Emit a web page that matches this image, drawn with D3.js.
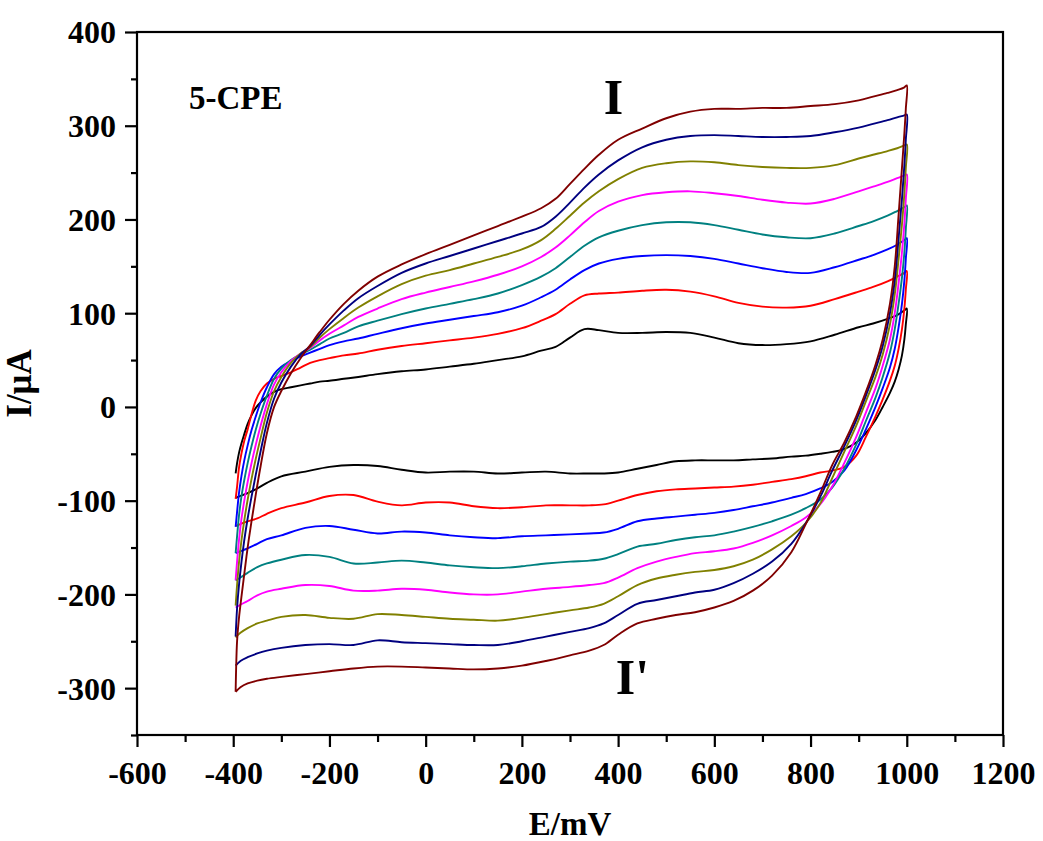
<!DOCTYPE html>
<html>
<head>
<meta charset="utf-8">
<script src="https://cdn.jsdelivr.net/npm/d3@7"></script>
<style>
  html, body { margin: 0; padding: 0; background: #ffffff; }
  svg text { font-family: "Liberation Serif", "Times New Roman", serif; font-weight: bold; fill: #000; }
</style>
</head>
<body>
<svg id="chart" width="1043" height="841"></svg>
<script>
// ---------------- data ----------------
const scanNames = ["scan1", "scan2", "scan3", "scan4", "scan5", "scan6", "scan7", "scan8"];
const scanColors = ["#000000", "#ff0000", "#0000ff", "#008080", "#ff00ff", "#808000", "#000080", "#800000"];

// anodic (forward) sweep potentials, mV
const anodicE = [-395, -392, -388, -383, -377, -370, -362, -353, -343, -330, -315, -300, -280, -260, -240, -220, -200, -170, -140, -100, -50, 0, 50, 100, 150, 200, 240, 270, 300, 330, 360, 400, 450, 500, 550, 600, 650, 700, 750, 800, 850, 900, 930, 960, 980, 995, 1000];
// anodic currents, µA (one row per scan)
const anodicI = [
  [-71, -60, -49, -39, -29, -18, -9, -1, 5, 11, 16, 19, 21, 23, 25, 27, 28, 30, 32, 35, 38, 40, 43, 46, 50, 54, 60, 64, 74, 83, 82, 79, 79, 80, 79, 74, 68, 66, 67, 70, 77, 85, 89, 94, 98, 103, 105],
  [-98, -85, -65, -50, -36, -24, -8, 7, 17, 25, 30, 33, 37, 42, 47, 50, 52, 55, 57, 61, 65, 68, 71, 74, 78, 84, 92, 99, 110, 119, 121, 122, 124, 125, 123, 118, 111, 107, 106, 108, 115, 123, 128, 134, 139, 143, 145],
  [-128, -112, -92, -74, -57, -41, -25, -10, 5, 21, 35, 43, 49, 54, 58, 62, 66, 70, 73, 78, 84, 89, 93, 97, 101, 108, 117, 125, 136, 146, 153, 158, 161, 162, 161, 158, 153, 148, 144, 143, 149, 157, 162, 168, 173, 178, 180],
  [-156, -138, -116, -96, -78, -60, -42, -24, -7, 12, 30, 41, 50, 56, 61, 67, 73, 79, 86, 92, 99, 105, 110, 115, 121, 130, 139, 148, 160, 172, 181, 188, 194, 197, 197, 194, 189, 184, 181, 180, 185, 193, 198, 204, 209, 213, 215],
  [-185, -165, -142, -120, -100, -80, -60, -40, -20, 3, 24, 37, 49, 57, 63, 71, 78, 87, 96, 105, 115, 122, 128, 134, 141, 150, 160, 170, 183, 197, 209, 219, 226, 229, 230, 228, 225, 221, 218, 217, 222, 230, 235, 240, 244, 247, 248],
  [-212, -190, -166, -143, -121, -99, -77, -55, -33, -6, 17, 32, 47, 57, 64, 74, 83, 95, 106, 118, 131, 140, 146, 153, 160, 168, 178, 190, 204, 218, 230, 243, 255, 260, 262, 261, 258, 256, 255, 255, 258, 265, 269, 273, 276, 279, 280],
  [-245, -215, -190, -166, -142, -119, -96, -72, -47, -17, 9, 26, 43, 56, 65, 77, 88, 103, 116, 129, 143, 153, 161, 169, 177, 185, 192, 203, 218, 234, 248, 263, 277, 285, 289, 290, 289, 288, 288, 289, 293, 298, 302, 306, 309, 311, 312],
  [-304, -250, -225, -203, -178, -150, -122, -93, -63, -28, 0, 17, 36, 52, 66, 80, 93, 110, 124, 139, 152, 163, 173, 183, 193, 203, 212, 222, 238, 254, 269, 285, 297, 308, 315, 318, 318, 319, 319, 321, 323, 327, 331, 335, 338, 341, 343]
];

// cathodic (reverse) sweep potentials, mV
const cathodicE = [1000, 998, 995, 990, 983, 975, 965, 950, 935, 915, 895, 870, 845, 820, 790, 760, 720, 680, 640, 600, 560, 520, 480, 440, 400, 370, 340, 300, 250, 200, 150, 100, 50, 0, -50, -100, -150, -200, -250, -300, -330, -350, -370, -385, -395];
// cathodic currents, µA (one row per scan)
const cathodicI = [
  [105, 88, 72, 55, 40, 27, 15, 0, -14, -28, -38, -45, -48, -50, -52, -53, -55, -56, -57, -57, -57, -58, -62, -66, -70, -71, -71, -71, -69, -70, -71, -69, -69, -70, -67, -63, -62, -64, -69, -74, -81, -87, -92, -95, -97],
  [145, 125, 105, 83, 62, 44, 28, 8, -10, -32, -52, -64, -68, -70, -74, -77, -80, -83, -85, -86, -87, -88, -90, -94, -100, -104, -105, -105, -105, -107, -108, -106, -102, -102, -105, -101, -94, -95, -102, -108, -114, -119, -122, -125, -127],
  [180, 158, 135, 110, 85, 62, 42, 20, 0, -24, -46, -68, -80, -87, -93, -97, -102, -106, -110, -113, -115, -117, -119, -122, -130, -134, -135, -136, -137, -138, -140, -139, -137, -134, -133, -135, -131, -127, -129, -137, -141, -146, -151, -154, -156],
  [215, 190, 165, 138, 110, 83, 58, 32, 10, -15, -40, -66, -86, -99, -108, -115, -122, -128, -133, -137, -139, -142, -146, -149, -157, -162, -164, -165, -167, -170, -172, -171, -169, -166, -164, -166, -167, -160, -158, -163, -167, -171, -177, -182, -185],
  [248, 222, 196, 165, 132, 100, 72, 44, 20, -6, -32, -60, -85, -104, -118, -127, -137, -145, -151, -154, -156, -160, -165, -172, -182, -188, -190, -192, -194, -197, -200, -200, -198, -195, -194, -196, -196, -191, -190, -194, -197, -201, -207, -211, -214],
  [280, 255, 228, 195, 158, 120, 88, 56, 32, 6, -20, -48, -76, -103, -124, -138, -152, -163, -170, -174, -176, -179, -183, -190, -202, -210, -214, -217, -221, -225, -228, -227, -226, -224, -222, -221, -226, -225, -222, -224, -228, -231, -236, -241, -246],
  [312, 285, 258, 222, 180, 135, 100, 65, 40, 12, -14, -42, -68, -96, -124, -146, -165, -178, -188, -195, -198, -202, -206, -210, -222, -231, -236, -240, -245, -250, -254, -254, -253, -252, -251, -249, -254, -253, -254, -257, -260, -263, -267, -271, -276],
  [343, 318, 292, 255, 205, 150, 110, 72, 45, 16, -10, -38, -62, -92, -125, -155, -180, -196, -207, -214, -219, -222, -226, -231, -243, -254, -260, -265, -271, -276, -279, -280, -279, -278, -277, -277, -279, -282, -285, -288, -290, -292, -295, -299, -304]
];

const xTicks = [-600, -400, -200, 0, 200, 400, 600, 800, 1000, 1200];
const xMinor = [-500, -300, -100, 100, 300, 500, 700, 900, 1100];
const yTicks = [-300, -200, -100, 0, 100, 200, 300, 400];
const yMinor = [-350, -250, -150, -50, 50, 150, 250, 350];
const xTitle = "E/mV";
const yTitle = "I/\u03bcA";
const panelLabel = "5-CPE";
const peakLabels = [{ text: "I", E: 370, I: 312 }, { text: "I'", E: 395, I: -306 }];

// ---------------- layout ----------------
const W = 1043, H = 841;
const margin = { left: 137, right: 40, top: 32, bottom: 106 };
const iw = W - margin.left - margin.right;
const ih = H - margin.top - margin.bottom;

const svg = d3.select("#chart");
const g = svg.append("g").attr("transform", `translate(${margin.left},${margin.top})`);

const x = d3.scaleLinear().domain([-600, 1200]).range([0, iw]);
const y = d3.scaleLinear().domain([-350, 400]).range([ih, 0]);

// curves
const line = d3.line()
  .x(d => x(d[0]))
  .y(d => y(d[1]))
  .curve(d3.curveCatmullRom.alpha(0.5));

const plot = g.append("g");
scanNames.forEach((name, k) => {
  const pts = anodicE.map((e, i) => [e, anodicI[k][i]])
    .concat(cathodicE.slice(1).map((e, i) => [e, cathodicI[k][i + 1]]));
  plot.append("path")
    .datum(pts)
    .attr("fill", "none")
    .attr("stroke", scanColors[k])
    .attr("stroke-width", 1.9)
    .attr("stroke-linejoin", "round")
    .attr("d", line);
});

// axes
const fontSize = 32;
const fmt = d => String(d);
const xAxis = g.append("g").attr("transform", `translate(0,${ih})`)
  .call(d3.axisBottom(x).tickValues(xTicks).tickSize(12).tickPadding(14).tickFormat(fmt));
const xAxisMinor = g.append("g").attr("transform", `translate(0,${ih})`)
  .call(d3.axisBottom(x).tickValues(xMinor).tickSize(7).tickFormat(""));
const yAxis = g.append("g")
  .call(d3.axisLeft(y).tickValues(yTicks).tickSize(12).tickPadding(9).tickFormat(fmt));
const yAxisMinor = g.append("g")
  .call(d3.axisLeft(y).tickValues(yMinor).tickSize(6).tickFormat(""));

[xAxis, xAxisMinor, yAxis, yAxisMinor].forEach(a => {
  a.select(".domain").remove();
  a.selectAll(".tick line").attr("stroke", "#000").attr("stroke-width", 2.2);
  a.selectAll("text")
    .style("font-family", '"Liberation Serif", "Times New Roman", serif')
    .style("font-weight", "bold")
    .style("font-size", fontSize + "px")
    .attr("fill", "#000");
});
yAxis.selectAll("text").attr("dy", "0.34em");

// frame
g.append("rect")
  .attr("x", 0).attr("y", 0).attr("width", iw).attr("height", ih)
  .attr("fill", "none").attr("stroke", "#000").attr("stroke-width", 2.2);

// axis titles
svg.append("text")
  .attr("x", margin.left + iw / 2)
  .attr("y", 835)
  .attr("text-anchor", "middle")
  .style("font-size", "33px")
  .text(xTitle);

svg.append("text")
  .attr("transform", `translate(31,${margin.top + ih / 2}) rotate(-90)`)
  .attr("text-anchor", "middle")
  .style("font-size", "35px")
  .text(yTitle);

// annotations
g.append("text")
  .attr("x", x(-492))
  .attr("y", y(318))
  .style("font-size", "33px")
  .text(panelLabel);

peakLabels.forEach(p => {
  g.append("text")
    .attr("x", x(p.E))
    .attr("y", y(p.I))
    .style("font-size", "50px")
    .text(p.text);
});
</script>
</body>
</html>
